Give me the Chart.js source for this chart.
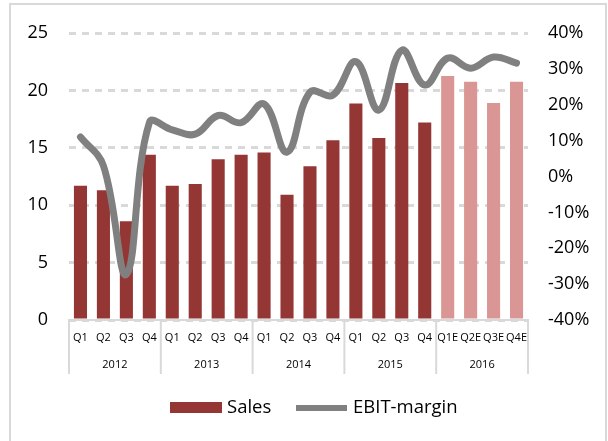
<!DOCTYPE html>
<html>
<head>
<meta charset="utf-8">
<script src="https://cdn.jsdelivr.net/npm/chart.js@4/dist/chart.umd.min.js"></script>
<style>
    body { margin: 0; background: #fff; }
    canvas { display: block; }
</style>
</head>
<body>
<canvas id="grafica" width="608" height="441"></canvas>
<script>
// datos del grafico
var trimestres = ['Q1', 'Q2', 'Q3', 'Q4', 'Q1', 'Q2', 'Q3', 'Q4', 'Q1', 'Q2', 'Q3', 'Q4',
    'Q1', 'Q2', 'Q3', 'Q4', 'Q1E', 'Q2E', 'Q3E', 'Q4E'];
var anios = ['2012', '2013', '2014', '2015', '2016'];
var ventas = [11.7, 11.3, 8.6, 14.4, 11.7, 11.85, 14.0, 14.4, 14.6, 10.9, 13.4, 15.65,
    18.85, 15.85, 20.65, 17.2, 21.25, 20.75, 18.9, 20.75];
var margen = [11, 3, -27.3, 15, 13, 11.8, 17, 15, 20.2, 6.8, 23.5, 22.7,
    32, 18.5, 35.2, 25.5, 33, 30.2, 33.3, 31.6];
var ticksVentas = [0, 5, 10, 15, 20, 25];
var ticksMargen = [-40, -30, -20, -10, 0, 10, 20, 30, 40];

var rojo = '#943634';
var rojoClaro = '#D99694';
var gris = '#808080';
var grisLinea = '#D9D9D9';
var fuente = "'Open Sans', 'Noto Sans', sans-serif";

var coloresBarras = trimestres.map(function(t) {
    return t.indexOf('E') > -1 ? rojoClaro : rojo;
});

// dibuja los anios, separadores, borde y leyenda
var extras = {
    id: 'extras',
    afterDraw: function(chart) {
        var ctx = chart.ctx;
        var x = chart.scales.x;
        var ancho = x.width / trimestres.length;
        ctx.save();
        ctx.strokeStyle = grisLinea;
        ctx.lineWidth = 2;
        for (var g = 0; g <= anios.length; g++) {
            var px = x.getPixelForValue(g * 4) - ancho / 2;
            if (g === anios.length) px = x.getPixelForValue(g * 4 - 1) + ancho / 2;
            ctx.beginPath();
            ctx.moveTo(px, x.top);
            ctx.lineTo(px, x.top + 54);
            ctx.stroke();
        }
        ctx.fillStyle = '#000';
        ctx.font = '11px ' + fuente;
        ctx.textAlign = 'center';
        ctx.textBaseline = 'middle';
        for (var i = 0; i < anios.length; i++) {
            var c = (x.getPixelForValue(i * 4) + x.getPixelForValue(i * 4 + 3)) / 2;
            ctx.fillText(anios[i], c, x.top + 45);
        }

        // borde exterior
        ctx.strokeStyle = grisLinea;
        ctx.lineWidth = 2;
        ctx.beginPath();
        ctx.moveTo(10, 445);
        ctx.lineTo(10, 4);
        ctx.lineTo(606, 4);
        ctx.lineTo(606, 445);
        ctx.stroke();

        // leyenda
        ctx.font = '18.5px ' + fuente;
        ctx.textAlign = 'left';
        ctx.fillStyle = rojo;
        ctx.fillRect(170, 402, 52, 11);
        ctx.fillStyle = '#000';
        ctx.fillText(chart.data.datasets[1].label, 227, 408);
        ctx.fillStyle = gris;
        ctx.fillRect(296, 405, 51, 6);
        ctx.fillStyle = '#000';
        ctx.fillText(chart.data.datasets[0].label, 353, 408);
        ctx.restore();
    }
};

new Chart(document.getElementById('grafica'), {
    type: 'bar',
    data: {
        labels: trimestres,
        datasets: [
            {
                type: 'line',
                label: 'EBIT-margin',
                data: margen,
                yAxisID: 'y1',
                borderColor: gris,
                backgroundColor: gris,
                borderWidth: 7,
                tension: 0.4,
                pointRadius: 0,
                borderCapStyle: 'round',
                borderJoinStyle: 'round',
                order: 1
            },
            {
                label: 'Sales',
                data: ventas,
                yAxisID: 'y',
                backgroundColor: coloresBarras,
                barPercentage: 0.57,
                categoryPercentage: 1,
                order: 2
            }
        ]
    },
    options: {
        responsive: false,
        animation: false,
        layout: { padding: { left: 0, right: 0, top: 33, bottom: 0 } },
        plugins: {
            legend: { display: false },
            tooltip: { enabled: false }
        },
        scales: {
            x: {
                grid: { display: false, drawTicks: false },
                border: { display: true, color: grisLinea, width: 2 },
                ticks: {
                    color: '#000',
                    font: { family: fuente, size: 11 },
                    padding: 11,
                    maxRotation: 0,
                    autoSkip: false
                },
                afterFit: function(scale) { scale.height = 121; }
            },
            y: {
                position: 'left',
                min: 0,
                max: 25,
                grid: { color: grisLinea, lineWidth: 3, drawTicks: false },
                border: { display: false, dash: [7, 6] },
                ticks: {
                    color: '#000',
                    font: { family: fuente, size: 18 },
                    padding: 21,
                    stepSize: 5
                },
                afterBuildTicks: function(scale) {
                    scale.ticks = ticksVentas.map(function(v) { return { value: v }; });
                },
                afterFit: function(scale) { scale.width = 69; }
            },
            y1: {
                position: 'right',
                min: -40,
                max: 40,
                grid: { display: false, drawTicks: false },
                border: { display: false },
                ticks: {
                    color: '#000',
                    font: { family: fuente, size: 18 },
                    padding: 20,
                    stepSize: 10,
                    callback: function(v) { return v + '%'; }
                },
                afterBuildTicks: function(scale) {
                    scale.ticks = ticksMargen.map(function(v) { return { value: v }; });
                },
                afterFit: function(scale) { scale.width = 80; }
            }
        }
    },
    plugins: [extras]
});
</script>
</body>
</html>
